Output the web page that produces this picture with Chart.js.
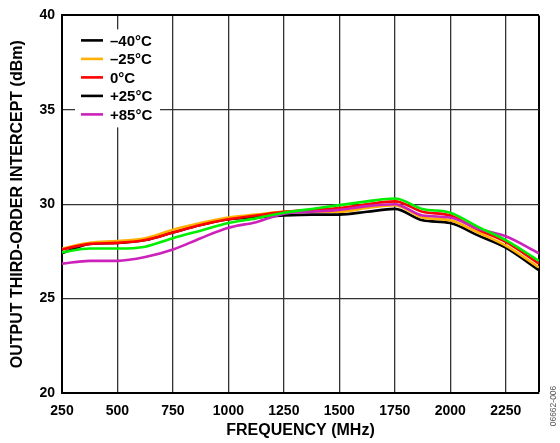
<!DOCTYPE html>
<html>
<head>
<meta charset="utf-8">
<script src="https://cdn.jsdelivr.net/npm/chart.js@4/dist/chart.umd.min.js"></script>
<style>
html, body { margin: 0; padding: 0; background: #fff; }
#wrap { position: relative; width: 560px; height: 443px; }
</style>
</head>
<body>
<div id="wrap"><canvas id="c" width="560" height="443"></canvas></div>
<script>
"use strict";

// frequency points (MHz)
var freq = [250, 375, 500, 625, 750, 875, 1000, 1125, 1250, 1375, 1500, 1625, 1750, 1875, 2000, 2125, 2250, 2400];

// output IP3 (dBm) per temperature
var oip3M40 = [27.4, 27.9, 27.95, 28.1, 28.5, 28.9, 29.2, 29.3, 29.4, 29.45, 29.45, 29.6, 29.75, 29.15, 29.0, 28.35, 27.7, 26.5];
var oip3M25 = [27.65, 27.95, 28.05, 28.2, 28.65, 29.0, 29.3, 29.45, 29.6, 29.6, 29.6, 29.8, 29.95, 29.3, 29.15, 28.5, 27.8, 26.65];
var oip3P0 = [27.6, 27.9, 27.95, 28.1, 28.5, 28.9, 29.2, 29.4, 29.6, 29.7, 29.8, 30.0, 30.15, 29.6, 29.4, 28.65, 28.0, 26.85];
var oip3P25 = [27.45, 27.65, 27.65, 27.75, 28.2, 28.6, 29.0, 29.25, 29.55, 29.75, 29.95, 30.15, 30.3, 29.75, 29.55, 28.8, 28.1, 27.0];
var oip3P85 = [26.85, 27.0, 27.0, 27.2, 27.6, 28.2, 28.75, 29.05, 29.5, 29.6, 29.7, 29.9, 30.0, 29.4, 29.3, 28.7, 28.3, 27.4];

var seriesNames = ["\u201340\u00b0C", "\u201325\u00b0C", "0\u00b0C", "+25\u00b0C", "+85\u00b0C"];
var seriesColors = ["#000000", "#ffb000", "#ff0000", "#00ee00", "#cc22bb"];
// legend swatches as printed in the original figure
var legendColors = ["#000000", "#ffb000", "#ff0000", "#000000", "#cc22bb"];

var xMin = 250, xMax = 2400, xStep = 250;
var yMin = 20, yMax = 40, yStep = 5;

var xTitle = "FREQUENCY (MHz)";
var yTitle = "OUTPUT THIRD-ORDER INTERCEPT (dBm)";
var figCode = "06662-006";

var FONT = "'Liberation Sans', Arial, sans-serif";

function pts(ys) {
    return freq.map(function (f, i) { return { x: f, y: ys[i] }; });
}

var allSeries = [oip3M40, oip3M25, oip3P0, oip3P25, oip3P85];
// draw order: green & magenta first, then the rest on top
var order = [3, 4, 2, 1, 0];

var datasets = order.map(function (k) {
    return {
        label: seriesNames[k],
        data: pts(allSeries[k]),
        borderColor: seriesColors[k],
        borderWidth: 2.6,
        pointRadius: 0,
        tension: 0.4,
        cubicInterpolationMode: "monotone",
        fill: false
    };
});

var boxLegend = {
    id: "boxLegend",
    afterDatasetsDraw: function (chart) {
        var ctx = chart.ctx, a = chart.chartArea;
        var x0 = a.left + 13, y0 = a.top + 14, w = 85, h = 98;
        ctx.save();
        ctx.fillStyle = "#fff";
        ctx.fillRect(x0, y0, w, h);
        ctx.font = "bold 15px " + FONT;
        ctx.textBaseline = "middle";
        for (var i = 0; i < seriesNames.length; i++) {
            var yy = y0 + 11 + i * 18.5;
            ctx.strokeStyle = legendColors[i];
            ctx.lineWidth = 2.6;
            ctx.beginPath();
            ctx.moveTo(x0 + 6, yy);
            ctx.lineTo(x0 + 28, yy);
            ctx.stroke();
            ctx.fillStyle = "#000";
            ctx.fillText(seriesNames[i], x0 + 35, yy + 1);
        }
        ctx.restore();
    },
    afterDraw: function (chart) {
        var ctx = chart.ctx;
        ctx.save();
        ctx.translate(554, 406);
        ctx.rotate(-Math.PI / 2);
        ctx.font = "8.5px " + FONT;
        ctx.fillStyle = "#555";
        ctx.textAlign = "center";
        ctx.textBaseline = "middle";
        ctx.fillText(figCode, 0, 0);
        ctx.restore();
    }
};

function edge(v, lo, hi) { return v === lo || v === hi; }

new Chart(document.getElementById("c").getContext("2d"), {
    type: "line",
    data: { datasets: datasets },
    options: {
        responsive: false,
        devicePixelRatio: 1,
        animation: false,
        layout: { padding: { top: 11, right: 21, left: 0, bottom: 0 } },
        plugins: { legend: { display: false }, tooltip: { enabled: false } },
        scales: {
            x: {
                type: "linear",
                min: xMin,
                max: xMax,
                bounds: "data",
                afterFit: function (s) { s.height = 50; },
                ticks: {
                    stepSize: xStep,
                    autoSkip: false,
                    maxRotation: 0,
                    padding: 10,
                    color: "#000",
                    font: { family: FONT, size: 14, weight: "bold" },
                    callback: function (v) { return v === xMax ? "" : String(v); }
                },
                grid: {
                    drawTicks: false,
                    color: function (c) { return c.tick && c.tick.value === xMax ? "#000" : "#333"; },
                    lineWidth: function (c) { return c.tick && c.tick.value === xMax ? 2 : 1.3; }
                },
                border: { color: "#000", width: 2 },
                title: {
                    display: true,
                    text: xTitle,
                    color: "#000",
                    padding: { top: 0, bottom: 3 },
                    font: { family: FONT, size: 16, weight: "bold" }
                }
            },
            y: {
                min: yMin,
                max: yMax,
                afterFit: function (s) { s.width = 62; },
                ticks: {
                    stepSize: yStep,
                    padding: 7,
                    color: "#000",
                    font: { family: FONT, size: 14, weight: "bold" },
                    callback: function (v) { return String(v); }
                },
                grid: {
                    drawTicks: false,
                    color: function (c) { return c.tick && c.tick.value === yMax ? "#000" : "#333"; },
                    lineWidth: function (c) { return c.tick && c.tick.value === yMax ? 2 : 1.3; }
                },
                border: { color: "#000", width: 2 },
                title: {
                    display: true,
                    text: yTitle,
                    color: "#000",
                    padding: { top: 8, bottom: 0 },
                    font: { family: FONT, size: 16, weight: "bold" }
                }
            }
        }
    },
    plugins: [boxLegend]
});
</script>
</body>
</html>
